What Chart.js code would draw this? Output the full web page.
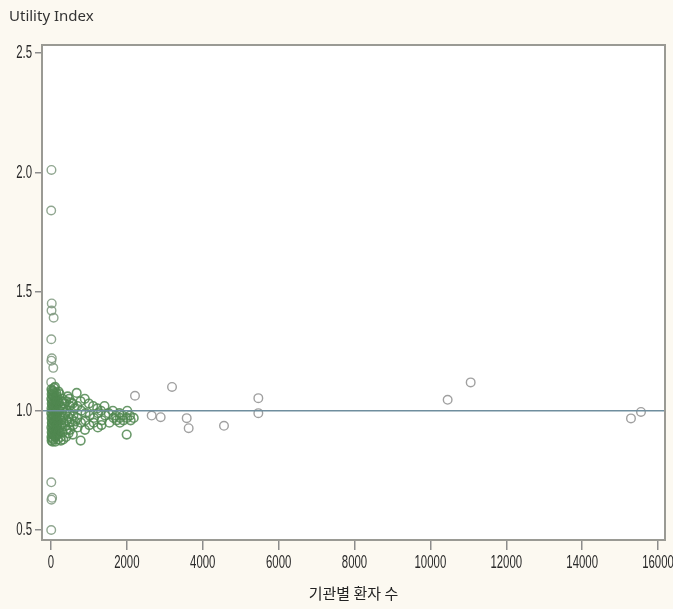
<!DOCTYPE html>
<html lang="ko">
<head>
<meta charset="UTF-8" />
<title>Utility Index</title>
<script src="https://cdn.jsdelivr.net/npm/chart.js"></script>
<style>
  html, body { margin: 0; padding: 0; background: #fcf9f1; }
</style>
</head>
<body>
<canvas id="myChart" width="673" height="609"></canvas>
<script>
// dense group of institutions (small patient counts)
const clusterX = [
  12, 18, 10, 20, 14, 8, 16, 22, 11, 19, 13, 17,
  33, 38, 31, 36, 40, 34, 37, 32, 39, 35, 30, 41,
  55, 62, 58, 66, 52, 60, 64, 57, 61, 54, 59,
  82, 88, 84, 90, 80, 86, 83, 89, 81, 87, 85,
  105, 112, 118, 100, 108, 115, 103, 111, 120, 106, 114,
  138, 142, 136, 145, 139, 141, 137, 144, 140, 143,
  165, 172, 178, 160, 168, 175, 163, 170, 180,
  200, 210, 220, 270, 280, 290, 205, 260,
  230, 245, 250, 238, 255, 310, 325, 318, 330, 305, 322,
  360, 370, 380, 440, 450, 460, 530, 545, 620, 640,
  400, 415, 408, 420, 395, 480, 500, 492, 485, 505,
  570, 590, 585, 575, 677, 695, 688, 700, 780, 800, 790, 782,
  890, 910, 905, 895, 1000, 1020, 1010, 1110, 1130, 1125,
  1220, 1240, 1235, 1320, 1340, 1330, 1410, 1430, 1520, 1540,
  1630, 1650, 1710, 1730, 1800, 1820, 1815, 1890, 1910, 1995, 2010, 2005, 2080, 2100, 2180,
];
const clusterY = [
  1.09, 1.07, 1.05, 1.03, 1.01, 0.99, 0.97, 0.95, 0.93, 0.91, 0.89, 0.875,
  1.085, 1.065, 1.045, 1.025, 1.005, 0.985, 0.965, 0.945, 0.925, 0.905, 0.885, 0.87,
  1.08, 1.06, 1.04, 1.02, 1.0, 0.98, 0.96, 0.94, 0.92, 0.9, 0.88,
  1.095, 1.075, 1.055, 1.035, 1.015, 0.995, 0.975, 0.955, 0.935, 0.915, 0.895,
  1.1, 1.05, 1.03, 1.01, 0.99, 0.97, 0.95, 0.93, 0.91, 0.89, 0.87,
  1.075, 1.055, 1.035, 1.015, 0.995, 0.975, 0.955, 0.935, 0.915, 0.895,
  1.06, 1.04, 1.0, 0.98, 0.96, 0.94, 0.92, 0.9, 0.88,
  1.08, 1.035, 1.0, 0.96, 0.94, 1.04, 0.915, 0.875,
  1.07, 1.02, 0.97, 0.93, 0.89, 1.05, 1.01, 0.98, 0.95, 0.91, 0.88,
  1.03, 0.99, 0.935, 1.06, 0.975, 0.905, 1.035, 0.965, 1.01, 0.955,
  1.04, 1.0, 0.96, 0.92, 0.89, 1.05, 1.02, 0.99, 0.95, 0.92,
  1.03, 0.98, 0.94, 0.9, 1.075, 1.02, 0.97, 0.93, 1.04, 1.0, 0.95, 0.875,
  1.05, 0.99, 0.96, 0.92, 1.03, 0.98, 0.94, 1.02, 0.97, 0.95,
  1.01, 0.99, 0.93, 1.0, 0.96, 0.94, 1.02, 0.98, 0.99, 0.95,
  1.0, 0.97, 0.98, 0.96, 0.99, 0.97, 0.95, 0.98, 0.96, 0.9, 1.0, 0.97, 0.98, 0.96, 0.97,
];
// small institutions far from 1.0
const spreadX = [12, 5, 20, 14, 70, 8, 22, 10, 60, 6, 8, 30, 12, 6];
const spreadY = [2.01, 1.84, 1.45, 1.42, 1.39, 1.3, 1.22, 1.21, 1.18, 1.12, 0.7, 0.635, 0.627, 0.5];
// large institutions
const farX = [2214, 3190, 2654, 2891, 3577, 3629, 4560, 5465, 5465, 10455, 11062, 15287, 15551];
const farY = [1.063, 1.1, 0.98, 0.973, 0.969, 0.927, 0.937, 1.053, 0.99, 1.046, 1.119, 0.968, 0.995];

const xTicks = [0, 2000, 4000, 6000, 8000, 10000, 12000, 14000, 16000];
const yTicks = [0.5, 1.0, 1.5, 2.0, 2.5];
const xMin = -237, xMax = 16184;
const yMin = 0.458, yMax = 2.534;
const referenceLevel = 1.0;
const yTitle = "Utility Index";
const xTitle = "기관별 환자 수";

const toPoints = (xs, ys) => xs.map((x, i) => ({ x: x, y: ys[i] }));

// narrow tick labels, squeezed horizontally like the original
function drawNarrow(ctx, text, x, y, align) {
  const squeeze = 0.6;
  ctx.save();
  ctx.translate(x, y);
  ctx.scale(squeeze, 1);
  ctx.textAlign = align;
  ctx.textBaseline = "middle";
  ctx.fillText(text, 0, 0);
  ctx.restore();
}

const frame = {
  id: "frame",
  beforeDraw(chart) {
    const { ctx, chartArea: a } = chart;
    ctx.save();
    ctx.fillStyle = "#fcf9f1";
    ctx.fillRect(0, 0, chart.width, chart.height);
    ctx.fillStyle = "#ffffff";
    ctx.fillRect(a.left, a.top, a.right - a.left, a.bottom - a.top);
    ctx.restore();
  },
  afterDraw(chart) {
    const { ctx, chartArea: a } = chart;
    const xs = chart.scales.x, ys = chart.scales.y;
    ctx.save();
    ctx.strokeStyle = "#9a9a94";
    ctx.lineWidth = 2;
    ctx.strokeRect(a.left, a.top, a.right - a.left, a.bottom - a.top);
    ctx.fillStyle = "#333";
    ctx.font = "15px 'Noto Sans', sans-serif";
    ctx.textBaseline = "middle";
    ctx.fillText(yTitle, 9, 17);
    ctx.fillStyle = "#2a2a2a";
    ctx.font = "19px 'Liberation Sans', sans-serif";
    xTicks.forEach((v) => drawNarrow(ctx, String(v), xs.getPixelForValue(v), a.bottom + 23, "center"));
    yTicks.forEach((v) => drawNarrow(ctx, v.toFixed(1), a.left - 10, ys.getPixelForValue(v), "right"));
    ctx.restore();
  },
};

new Chart(document.getElementById("myChart").getContext("2d"), {
  type: "scatter",
  data: {
    datasets: [
      {
        type: "line",
        data: [{ x: xMin, y: referenceLevel }, { x: xMax, y: referenceLevel }],
        borderColor: "#6f8e9e",
        borderWidth: 1.5,
        pointRadius: 0,
        order: 0,
      },
      {
        data: toPoints(clusterX, clusterY),
        pointRadius: 4.3,
        pointBorderWidth: 1.6,
        pointBorderColor: "rgba(80,135,80,0.85)",
        pointBackgroundColor: "rgba(0,0,0,0)",
        order: 1,
      },
      {
        data: toPoints(spreadX, spreadY),
        pointRadius: 4.3,
        pointBorderWidth: 1.4,
        pointBorderColor: "rgba(125,150,125,0.85)",
        pointBackgroundColor: "rgba(0,0,0,0)",
        order: 1,
      },
      {
        data: toPoints(farX, farY),
        pointRadius: 4.3,
        pointBorderWidth: 1.4,
        pointBorderColor: "#a0a0a0",
        pointBackgroundColor: "rgba(0,0,0,0)",
        order: 1,
      },
    ],
  },
  options: {
    responsive: false,
    animation: false,
    layout: { padding: { top: 45, right: 8, left: 0, bottom: 0 } },
    plugins: { legend: { display: false }, tooltip: { enabled: false }, title: { display: false } },
    scales: {
      x: {
        type: "linear",
        min: xMin,
        max: xMax,
        afterBuildTicks: (s) => { s.ticks = xTicks.map((v) => ({ value: v })); },
        afterFit: (s) => { s.height = 69; s.paddingLeft = 0; s.paddingRight = 0; },
        grid: { drawOnChartArea: false, drawTicks: true, tickLength: 10, color: "#8c8c8c", lineWidth: 1.5 },
        border: { display: false },
        ticks: { display: false },
        title: { display: true, text: xTitle, color: "#222", font: { family: "'Noto Sans CJK KR', sans-serif", size: 15 }, padding: { top: 4, bottom: 7 } },
      },
      y: {
        min: yMin,
        max: yMax,
        afterBuildTicks: (s) => { s.ticks = yTicks.map((v) => ({ value: v })); },
        afterFit: (s) => { s.width = 42; s.paddingTop = 0; s.paddingBottom = 0; },
        grid: { drawOnChartArea: false, drawTicks: true, tickLength: 7, color: "#8c8c8c", lineWidth: 1.5 },
        border: { display: false },
        ticks: { display: false },
      },
    },
  },
  plugins: [frame],
});
</script>
</body>
</html>
